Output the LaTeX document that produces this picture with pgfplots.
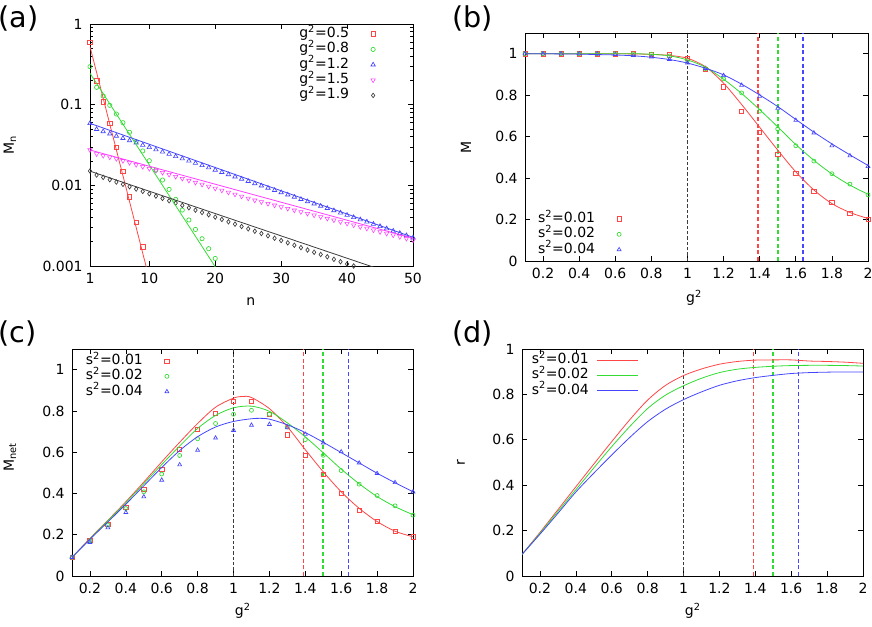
\documentclass[border=0pt]{standalone}
\usepackage{fontspec}
\setmainfont{DejaVu Sans}
\usepackage{pgfplots}
\pgfplotsset{compat=1.18}

\definecolor{cR}{RGB}{255,70,70}
\definecolor{cG}{RGB}{50,220,50}
\definecolor{cB}{RGB}{70,70,255}
\definecolor{cM}{RGB}{255,60,255}
\definecolor{cK}{RGB}{60,60,60}

\newcommand\tf{\fontsize{10.5}{12}\selectfont}
\pgfplotsset{
  gp/.style={
    scale only axis, anchor=south west,
    tick align=inside, major tick length=3.75pt, minor tick length=2pt,
    tick style={black, line width=0.5pt},
    axis line style={line width=0.7pt},
    /pgf/number format/assume math mode=true,
    tick label style={font=\tf},
    label style={font=\tf},
    xticklabel style={yshift=-2pt},
    yticklabel style={xshift=-2pt},
    clip mode=individual,
    legend cell align=right,
    legend plot pos=right,
    legend style={font=\tf, draw=none, fill=none, inner sep=0pt, outer sep=0pt,
      anchor=north east, row sep=0pt, column sep=0pt,
      nodes={inner sep=0pt, text height=8.3pt, text depth=3.2pt}},
  },
  mkleg/.style={legend image code/.code={\path[draw=none] (0pt,0pt) (21.5pt,0pt); \path[##1] plot[only marks] coordinates {(18pt,0pt)};}},
  lnleg/.style={legend image code/.code={\path[draw=none] (0pt,0pt); \draw[##1] (6pt,0pt) -- (36.5pt,0pt);}},
  ln/.style={line width=0.6pt, no marks},
  mk/.style={only marks, mark options={line width=0.5pt, solid}},
}

\begin{document}
\begin{tikzpicture}
\useasboundingbox (0pt,0pt) rectangle (654pt,-470.25pt);

% panel labels
\node[anchor=north west, inner sep=0pt, font=\fontsize{21.5}{24}\selectfont] at (-1.5pt,-3.75pt) {(a)};
\node[anchor=north west, inner sep=0pt, font=\fontsize{21.5}{24}\selectfont] at (339pt,-3.75pt) {(b)};
\node[anchor=north west, inner sep=0pt, font=\fontsize{21.5}{24}\selectfont] at (-1.5pt,-240pt) {(c)};
\node[anchor=north west, inner sep=0pt, font=\fontsize{21.5}{24}\selectfont] at (339pt,-240pt) {(d)};

%================ (a)
\begin{axis}[gp, mkleg, at={(67.5pt,-199.5pt)}, width=242.25pt, height=181.5pt,
  ymode=log, xmin=1, xmax=50, ymin=0.001, ymax=1,
  xtick={1,10,20,30,40,50},
  ytick={0.001,0.01,0.1,1}, yticklabels={0.001,0.01,0.1,1},
  minor ytick={0.002,0.003,0.004,0.005,0.006,0.007,0.008,0.009,0.02,0.03,0.04,0.05,0.06,0.07,0.08,0.09,0.2,0.3,0.4,0.5,0.6,0.7,0.8,0.9},
  xlabel={n}, ylabel={M\textsubscript{n}},
  xlabel style={at={(axis description cs:0.498,-0.149)}, anchor=center},
  ylabel style={at={(axis description cs:-0.248,0.5)}, anchor=center},
  legend style={at={(axis description cs:0.891,0.99)}},
]
\addplot[mk, color=cR, mark=square, mark size=1.7pt] coordinates {
(1,0.593)(2,0.197)(3,0.109)(4,0.0587)(5,0.0296)(6,0.0149)(7,0.00724)(8,0.00348)(9,0.00174)};
\addlegendentry{g\textsuperscript{2}=0.5}
\addplot[mk, color=cG, mark=o, mark size=1.6pt] coordinates {
(1,0.296)(2,0.164)(3,0.128)(4,0.0982)(5,0.0766)(6,0.0598)(7,0.0454)(8,0.0348)(9,0.0267)(10,0.0202)
(11,0.0155)(12,0.01164)(13,0.00891)(14,0.0067)(15,0.00494)(16,0.00372)(17,0.00284)(18,0.00218)(19,0.00164)(20,0.00124)};
\addlegendentry{g\textsuperscript{2}=0.8}
\addplot[mk, color=cB, mark=triangle, mark size=1.9pt] coordinates {
(1,0.0587)(2,0.04955)(3,0.04646)(4,0.04356)(5,0.04084)(6,0.03829)(7,0.03590)(8,0.03366)(9,0.03156)(10,0.02959)
(11,0.02774)(12,0.02601)(13,0.02439)(14,0.02287)(15,0.02144)(16,0.02010)(17,0.01885)(18,0.01767)(19,0.01657)(20,0.01553)
(21,0.01456)(22,0.01365)(23,0.01280)(24,0.01200)(25,0.01125)(26,0.01055)(27,0.00989)(28,0.00927)(29,0.00869)(30,0.00815)
(31,0.00764)(32,0.00717)(33,0.00672)(34,0.00630)(35,0.00591)(36,0.00554)(37,0.00519)(38,0.00487)(39,0.00456)(40,0.00428)
(41,0.00401)(42,0.00376)(43,0.00353)(44,0.00331)(45,0.00310)(46,0.00291)(47,0.00272)(48,0.00255)(49,0.00239)(50,0.00224)};
\addlegendentry{g\textsuperscript{2}=1.2}
\addplot[mk, color=cM, mark=triangle, mark size=1.9pt, mark options={rotate=180}] coordinates {
(1,0.0274)(2,0.02449)(3,0.02339)(4,0.02233)(5,0.02133)(6,0.02016)(7,0.01906)(8,0.01801)(9,0.01702)(10,0.01609)
(11,0.01521)(12,0.01438)(13,0.01359)(14,0.01284)(15,0.01214)(16,0.01147)(17,0.01084)(18,0.01025)(19,0.00969)(20,0.00916)
(21,0.00866)(22,0.00818)(23,0.00773)(24,0.00731)(25,0.00691)(26,0.00653)(27,0.00623)(28,0.00594)(29,0.00566)(30,0.00540)
(31,0.00515)(32,0.00491)(33,0.00469)(34,0.00447)(35,0.00426)(36,0.00407)(37,0.00388)(38,0.00370)(39,0.00353)(40,0.00336)
(41,0.00321)(42,0.00306)(43,0.00292)(44,0.00278)(45,0.00265)(46,0.00253)(47,0.00241)(48,0.00230)(49,0.00219)(50,0.00209)};
\addlegendentry{g\textsuperscript{2}=1.5}
\addplot[mk, color=cK, mark=diamond, mark size=1.7pt] coordinates {
(1,0.01506)(2,0.01343)(3,0.01256)(4,0.01175)(5,0.01099)(6,0.01028)(7,0.00962)(8,0.00900)(9,0.00841)(10,0.00787)
(11,0.00736)(12,0.00689)(13,0.00644)(14,0.00603)(15,0.00564)(16,0.00527)(17,0.00493)(18,0.00461)(19,0.00432)(20,0.00404)
(21,0.00378)(22,0.00353)(23,0.00330)(24,0.00309)(25,0.00289)(26,0.00270)(27,0.00253)(28,0.00237)(29,0.00221)(30,0.00207)
(31,0.00194)(32,0.00181)(33,0.00169)(34,0.00158)(35,0.00148)(36,0.00139)(37,0.00130)(38,0.00121)(39,0.00113)(40,0.00106)(41,0.00100)};
\addlegendentry{g\textsuperscript{2}=1.9}
\addplot[ln, color=cR, forget plot] coordinates {(1,0.524)(10,0.00069)};
\addplot[ln, color=cG, forget plot] coordinates {(1,0.245)(21,0.00073)};
\addplot[ln, color=cB, forget plot] coordinates {(1,0.0587)(50,0.00227)};
\addplot[ln, color=cM, forget plot] coordinates {(1,0.0274)(50,0.00221)};
\addplot[ln, color=cK, forget plot] coordinates {(1,0.0150)(50,0.00066)};
\end{axis}

%================ (b)
\begin{axis}[gp, mkleg, at={(393.75pt,-195.75pt)}, width=257.25pt, height=171pt,
  xmin=0.1, xmax=2, ymin=0, ymax=1.1,
  xtick={0.2,0.4,0.6,0.8,1,1.2,1.4,1.6,1.8,2}, ytick={0,0.2,0.4,0.6,0.8,1},
  xlabel={g\textsuperscript{2}}, ylabel={M},
  xlabel style={at={(axis description cs:0.493,-0.162)}, anchor=center},
  ylabel style={at={(axis description cs:-0.172,0.5)}, anchor=center},
  legend style={at={(axis description cs:0.288,0.218)}},
]
\addplot[color=cK, line width=0.8pt, dash pattern=on 2.5pt off 1.5pt, mark=none, forget plot] coordinates {(1,0)(1,1.1)};
\addplot[color=cR, line width=1.3pt, dash pattern=on 3pt off 2pt, mark=none, forget plot] coordinates {(1.39,0)(1.39,1.1)};
\addplot[color=cG, line width=1.3pt, dash pattern=on 3pt off 2pt, mark=none, forget plot] coordinates {(1.5,0)(1.5,1.1)};
\addplot[color=cB, line width=1.3pt, dash pattern=on 3pt off 2pt, mark=none, forget plot] coordinates {(1.64,0)(1.64,1.1)};
\addplot[mk, color=cR, mark=square, mark size=1.6pt] coordinates {
(0.1,1.0)(0.2,1.0)(0.3,1.0)(0.4,1.0)(0.5,1.0)(0.6,1.0)(0.7,0.999)(0.8,0.998)(0.9,0.995)(1.0,0.977)
(1.1,0.924)(1.2,0.840)(1.3,0.723)(1.4,0.621)(1.5,0.516)(1.6,0.424)(1.7,0.335)(1.8,0.282)(1.9,0.231)(2.0,0.202)};
\addlegendentry{s\textsuperscript{2}=0.01}
\addplot[mk, color=cG, mark=o, mark size=1.5pt] coordinates {
(0.1,1.0)(0.2,1.0)(0.3,1.0)(0.4,1.0)(0.5,1.0)(0.6,1.0)(0.7,0.999)(0.8,0.998)(0.9,0.989)(1.0,0.968)
(1.1,0.928)(1.2,0.879)(1.3,0.811)(1.4,0.723)(1.5,0.637)(1.6,0.556)(1.7,0.482)(1.8,0.421)(1.9,0.371)(2.0,0.319)};
\addlegendentry{s\textsuperscript{2}=0.02}
\addplot[mk, color=cB, mark=triangle, mark size=1.7pt] coordinates {
(0.1,1.0)(0.2,1.0)(0.3,1.0)(0.4,1.0)(0.5,0.999)(0.6,0.997)(0.7,0.992)(0.8,0.985)(0.9,0.973)(1.0,0.956)
(1.1,0.929)(1.2,0.895)(1.3,0.848)(1.4,0.795)(1.5,0.737)(1.6,0.679)(1.7,0.618)(1.8,0.556)(1.9,0.508)(2.0,0.456)};
\addlegendentry{s\textsuperscript{2}=0.04}
\addplot[ln, smooth, color=cR, forget plot] coordinates {
(0.1,1.0)(0.3,1.0)(0.5,1.0)(0.6,1.0)(0.7,0.999)(0.8,0.997)(0.9,0.992)(1.0,0.978)
(1.1,0.937)(1.2,0.858)(1.3,0.755)(1.4,0.645)(1.5,0.535)(1.6,0.430)(1.7,0.343)(1.8,0.277)(1.9,0.234)(2.0,0.205)};
\addplot[ln, smooth, color=cG, forget plot] coordinates {
(0.1,1.0)(0.3,1.0)(0.5,1.0)(0.7,1.0)(0.8,0.997)(0.9,0.990)(1.0,0.970)
(1.1,0.935)(1.2,0.877)(1.3,0.808)(1.4,0.730)(1.5,0.647)(1.6,0.562)(1.7,0.486)(1.8,0.420)(1.9,0.366)(2.0,0.322)};
\addplot[ln, smooth, color=cB, forget plot] coordinates {
(0.1,1.0)(0.2,1.0)(0.3,0.999)(0.4,0.998)(0.5,0.996)(0.6,0.994)(0.7,0.990)(0.8,0.983)(0.9,0.972)(1.0,0.955)
(1.1,0.930)(1.2,0.898)(1.3,0.853)(1.4,0.801)(1.5,0.745)(1.6,0.683)(1.7,0.622)(1.8,0.565)(1.9,0.512)(2.0,0.461)};
\end{axis}

%================ (c)
\begin{axis}[gp, mkleg, at={(54pt,-432pt)}, width=255.75pt, height=170.25pt,
  xmin=0.1, xmax=2, ymin=0, ymax=1.1,
  xtick={0.2,0.4,0.6,0.8,1,1.2,1.4,1.6,1.8,2}, ytick={0,0.2,0.4,0.6,0.8,1},
  xlabel={g\textsuperscript{2}}, ylabel={M\textsubscript{net}},
  xlabel style={at={(axis description cs:0.501,-0.154)}, anchor=center},
  ylabel style={at={(axis description cs:-0.182,0.524)}, anchor=center},
  legend style={at={(axis description cs:0.292,0.981)}},
]
\addplot[color=cK, line width=0.8pt, dash pattern=on 2.5pt off 1.5pt, mark=none, forget plot] coordinates {(1,0)(1,1.1)};
\addplot[color=cR, line width=1.3pt, dash pattern=on 3pt off 2pt, mark=none, forget plot] coordinates {(1.39,0)(1.39,1.1)};
\addplot[color=cG, line width=1.3pt, dash pattern=on 3pt off 2pt, mark=none, forget plot] coordinates {(1.5,0)(1.5,1.1)};
\addplot[color=cB, line width=1.3pt, dash pattern=on 3pt off 2pt, mark=none, forget plot] coordinates {(1.64,0)(1.64,1.1)};
\addplot[mk, color=cR, mark=square, mark size=1.6pt] coordinates {
(0.1,0.090)(0.2,0.174)(0.3,0.252)(0.4,0.332)(0.5,0.421)(0.6,0.516)(0.7,0.615)(0.8,0.710)(0.9,0.790)(1.0,0.845)
(1.1,0.845)(1.2,0.784)(1.3,0.684)(1.4,0.584)(1.5,0.492)(1.6,0.400)(1.7,0.318)(1.8,0.266)(1.9,0.218)(2.0,0.190)};
\addlegendentry{s\textsuperscript{2}=0.01}
\addplot[mk, color=cG, mark=o, mark size=1.5pt] coordinates {
(0.1,0.090)(0.2,0.171)(0.3,0.247)(0.4,0.327)(0.5,0.408)(0.6,0.494)(0.7,0.584)(0.8,0.665)(0.9,0.739)(1.0,0.784)
(1.1,0.803)(1.2,0.784)(1.3,0.722)(1.4,0.661)(1.5,0.585)(1.6,0.511)(1.7,0.445)(1.8,0.390)(1.9,0.340)(2.0,0.295)};
\addlegendentry{s\textsuperscript{2}=0.02}
\addplot[mk, color=cB, mark=triangle, mark size=1.7pt] coordinates {
(0.1,0.090)(0.2,0.163)(0.3,0.234)(0.4,0.308)(0.5,0.384)(0.6,0.465)(0.7,0.539)(0.8,0.610)(0.9,0.669)(1.0,0.706)
(1.1,0.731)(1.2,0.735)(1.3,0.719)(1.4,0.687)(1.5,0.645)(1.6,0.602)(1.7,0.548)(1.8,0.497)(1.9,0.453)(2.0,0.408)};
\addlegendentry{s\textsuperscript{2}=0.04}
\addplot[ln, smooth, color=cR, forget plot] coordinates {
(0.1,0.090)(0.2,0.182)(0.3,0.270)(0.4,0.360)(0.5,0.455)(0.6,0.553)(0.7,0.648)(0.8,0.739)(0.9,0.818)(1.0,0.862)
(1.05,0.870)(1.1,0.865)(1.2,0.811)(1.3,0.723)(1.4,0.612)(1.5,0.505)(1.6,0.408)(1.7,0.328)(1.8,0.264)(1.9,0.217)(2.0,0.190)};
\addplot[ln, smooth, color=cG, forget plot] coordinates {
(0.1,0.090)(0.2,0.180)(0.3,0.267)(0.4,0.355)(0.5,0.447)(0.6,0.540)(0.7,0.630)(0.8,0.715)(0.9,0.778)(1.0,0.815)
(1.1,0.823)(1.2,0.798)(1.3,0.742)(1.4,0.674)(1.5,0.597)(1.6,0.518)(1.7,0.447)(1.8,0.385)(1.9,0.336)(2.0,0.297)};
\addplot[ln, smooth, color=cB, forget plot] coordinates {
(0.1,0.090)(0.2,0.178)(0.3,0.262)(0.4,0.348)(0.5,0.437)(0.6,0.526)(0.7,0.608)(0.8,0.675)(0.9,0.722)(1.0,0.749)
(1.1,0.762)(1.15,0.764)(1.2,0.760)(1.3,0.733)(1.4,0.695)(1.5,0.648)(1.6,0.598)(1.7,0.548)(1.8,0.498)(1.9,0.452)(2.0,0.408)};
\end{axis}

%================ (d)
\begin{axis}[gp, lnleg, at={(391.5pt,-432pt)}, width=255.75pt, height=170.25pt,
  xmin=0.1, xmax=2, ymin=0, ymax=1,
  xtick={0.2,0.4,0.6,0.8,1,1.2,1.4,1.6,1.8,2}, ytick={0,0.2,0.4,0.6,0.8,1},
  xlabel={g\textsuperscript{2}}, ylabel={r},
  xlabel style={at={(axis description cs:0.501,-0.154)}, anchor=center},
  ylabel style={at={(axis description cs:-0.179,0.498)}, anchor=center},
  legend style={at={(axis description cs:0.340,0.985)}},
]
\addplot[color=cK, line width=0.8pt, dash pattern=on 2.5pt off 1.5pt, mark=none, forget plot] coordinates {(1,0)(1,1)};
\addplot[color=cR, line width=1.3pt, dash pattern=on 3pt off 2pt, mark=none, forget plot] coordinates {(1.39,0)(1.39,1)};
\addplot[color=cG, line width=1.3pt, dash pattern=on 3pt off 2pt, mark=none, forget plot] coordinates {(1.5,0)(1.5,1)};
\addplot[color=cB, line width=1.3pt, dash pattern=on 3pt off 2pt, mark=none, forget plot] coordinates {(1.64,0)(1.64,1)};
\addplot[ln, smooth, color=cR] coordinates {
(0.1,0.095)(0.2,0.192)(0.3,0.292)(0.4,0.393)(0.5,0.493)(0.6,0.592)(0.7,0.688)(0.8,0.775)(0.9,0.840)(1.0,0.883)
(1.1,0.912)(1.2,0.933)(1.3,0.945)(1.4,0.951)(1.5,0.952)(1.6,0.952)(1.7,0.947)(1.8,0.945)(1.9,0.942)(2.0,0.937)};
\addlegendentry{s\textsuperscript{2}=0.01}
\addplot[ln, smooth, color=cG] coordinates {
(0.1,0.095)(0.2,0.188)(0.3,0.284)(0.4,0.380)(0.5,0.476)(0.6,0.570)(0.7,0.658)(0.8,0.738)(0.9,0.797)(1.0,0.838)
(1.1,0.871)(1.2,0.896)(1.3,0.911)(1.4,0.919)(1.5,0.924)(1.6,0.927)(1.7,0.928)(1.8,0.928)(1.9,0.927)(2.0,0.925)};
\addlegendentry{s\textsuperscript{2}=0.02}
\addplot[ln, smooth, color=cB] coordinates {
(0.1,0.095)(0.2,0.184)(0.3,0.276)(0.4,0.370)(0.5,0.453)(0.6,0.533)(0.7,0.610)(0.8,0.680)(0.9,0.735)(1.0,0.777)
(1.1,0.811)(1.2,0.840)(1.3,0.860)(1.4,0.874)(1.5,0.884)(1.6,0.892)(1.7,0.896)(1.8,0.898)(1.9,0.899)(2.0,0.899)};
\addlegendentry{s\textsuperscript{2}=0.04}
\end{axis}
\end{tikzpicture}
\end{document}
